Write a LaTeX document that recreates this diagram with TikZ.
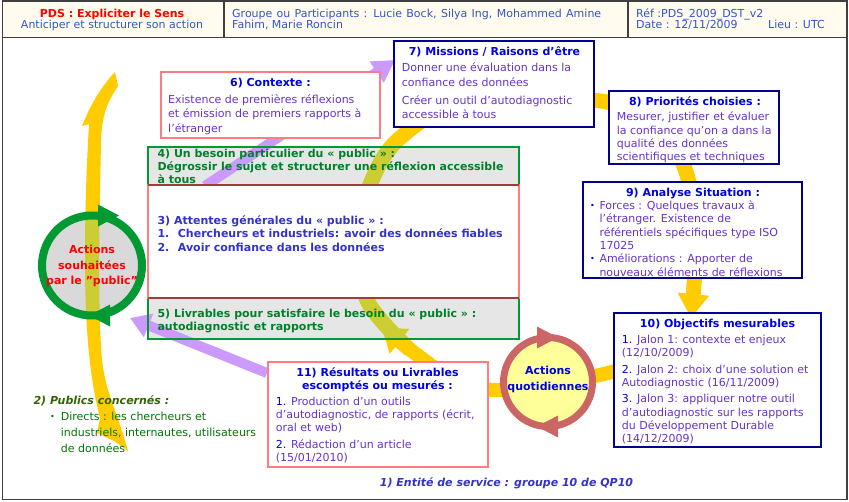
\documentclass[tikz,border=0pt]{standalone}
\usepackage{fontspec}
\setmainfont{DejaVu Sans}
\usetikzlibrary{arrows.meta}
\definecolor{yel}{RGB}{255,204,0}
\definecolor{oli}{RGB}{204,204,51}
\definecolor{pur}{RGB}{204,153,255}
\definecolor{grn}{RGB}{0,153,51}
\definecolor{gtx}{RGB}{0,128,40}
\definecolor{gtx2}{RGB}{0,120,0}
\definecolor{dgr}{RGB}{51,102,0}
\definecolor{nav}{RGB}{0,0,140}
\definecolor{pnk}{RGB}{255,124,128}
\definecolor{tb}{RGB}{0,0,230}
\definecolor{vio}{RGB}{102,51,204}
\definecolor{b3c}{RGB}{51,51,204}
\definecolor{hb}{RGB}{51,85,204}
\definecolor{cream}{RGB}{255,251,238}
\definecolor{gry}{RGB}{230,230,230}
\definecolor{cg}{RGB}{217,217,217}
\definecolor{rng}{RGB}{204,102,102}
\definecolor{lyel}{RGB}{255,255,153}
\definecolor{dk}{RGB}{64,64,64}
\definecolor{mar}{RGB}{160,60,60}
\newcommand\blk[7][]{\node[inner sep=0pt, anchor=north west, align=left, text=#6, font=\fontsize{11}{#5}\selectfont#1] (#2) at (#3,{#4-0.7*#5}) {\strut #7};}
\newcommand\ttl[4]{\node[inner sep=0pt, anchor=base, text=tb, font=\fontsize{11}{13}\selectfont\bfseries] (#1) at (#2,#3) {#4};}
\newcommand\uparc[2]{\draw[#1, line width=15pt, #2] plot[smooth, tension=0.55] coordinates {(410,350) (368,302) (356,240) (372,180) (400,138) (460,106) (601,101) (662,132) (687,175) (696,240) (691,318)};}
\newcommand\lowarc[2]{\draw[#1, line width=14pt, #2] plot[smooth, tension=0.55] coordinates {(650,360) (604,374) (548,384) (495,390) (455,381) (428,363) (382,328)};}
\tikzset{
  bxn/.style={draw=nav, line width=2.5pt, fill=white, inner sep=0pt, rectangle},
  bxp/.style={draw=pnk, line width=2pt, fill=white, inner sep=0pt, rectangle},
  hd/.style={inner sep=0pt, anchor=base west, text=hb, font=\fontsize{11}{13}\selectfont},
  band/.style={pur, line width=10pt},
}
\begin{document}
\begin{tikzpicture}[x=1pt,y=-1pt]
\useasboundingbox (0,0) rectangle (849,501);
\fill[white] (0,0) rectangle (849,501);
\fill[cream] (2,1) rectangle (847,37.5);
% grey boxes
\fill[gry] (148,147) rectangle (519,185);
\fill[gry] (148,298) rectangle (519,339);
% yellow arcs
\uparc{yel}{-{Triangle[length=24pt,width=30pt]}}
\lowarc{yel}{-{Triangle[length=22pt,width=30pt]}}
\begin{scope}
\clip (148,147) rectangle (519,185) (148,298) rectangle (519,339);
\uparc{oli}{-{Triangle[length=24pt,width=30pt]}}
\lowarc{oli}{-{Triangle[length=22pt,width=30pt]}}
\end{scope}
% left yellow arrow
\fill[yel] (115,72) -- (118,86) .. controls (109,100) and (102,112) .. (101,140) .. controls (100,200) and (97,300) .. (102,360) .. controls (106,395) and (117,410) .. (128,451) -- (114,441) -- (97,433) -- (100,418) .. controls (90,380) and (85,330) .. (85,260) .. controls (85,200) and (87,160) .. (89,124) -- (82,126) .. controls (90,106) and (100,88) .. (115,72) -- cycle;
% purple arrows
\coordinate (p1s) at (267,373);
\coordinate (p1e) at (130,318);
\coordinate (p2s) at (205,186);
\coordinate (p2e) at (395,60);
\draw[band, -{Triangle[length=20pt,width=24pt]}] (p1s) -- (p1e);
\draw[band, -{Triangle[length=22pt,width=24pt]}] (p2s) -- (p2e);
% boxes 4 and 5
\draw[grn, line width=2pt] (148,147) rectangle (519,185);
\draw[grn, line width=2pt] (148,298) rectangle (519,339);
\blk[\bfseries]{t4}{157.3}{157.3}{12.9}{gtx}{4) Un besoin particulier du « public » :\\Dégrossir le sujet et structurer une réflexion accessible\\à tous}
\blk[\bfseries]{t5}{157.3}{317.3}{12.6}{gtx}{5) Livrables pour satisfaire le besoin du « public » :\\autodiagnostic et rapports}
% box 3
\filldraw[fill=white, draw=pnk, line width=1.5pt] (148,185) rectangle (519,298);
\draw[mar, line width=1.5pt] (148,185) -- (519,185) (148,298) -- (519,298);
\blk[\bfseries]{t3}{157.3}{224}{13.5}{b3c}{3) Attentes générales du « public » :\\\makebox[20.4pt][l]{1.}Chercheurs et industriels: avoir des données fiables\\\makebox[20.4pt][l]{2.}Avoir confiance dans les données}
% box 6
\node[bxp, minimum width=219pt, minimum height=66pt] (b6) at (270.5,105) {};
\ttl{t6h}{270.5}{86}{6) Contexte :}
\blk{t6}{168}{103}{14.7}{vio}{Existence de premières réflexions\\et émission de premiers rapports à\\l’étranger}
% box 7
\node[bxn, minimum width=200pt, minimum height=86pt] (b7) at (494,84) {};
\ttl{t7h}{494.5}{55}{7) Missions / Raisons d'être}
\blk{t7}{401.7}{71.7}{14.7}{vio}{Donner une évaluation dans la\\confiance des données\\[2.8pt]Créer un outil d’autodiagnostic\\accessible à tous}
% box 8
\node[bxn, minimum width=170pt, minimum height=73pt] (b8) at (694,127.5) {};
\ttl{t8h}{695}{105}{8) Priorités choisies :}
\blk{t8}{616.7}{120.5}{13.3}{vio}{Mesurer, justifier et évaluer\\la confiance qu’on a dans la\\qualité des données\\scientifiques et techniques}
% box 9
\node[bxn, minimum width=219pt, minimum height=96pt] (b9) at (692.5,230) {};
\ttl{t9h}{693}{196}{9) Analyse Situation :}
\blk{t9}{599.3}{209}{13.4}{vio}{Forces : Quelques travaux à\\l’étranger. Existence de\\référentiels spécifiques type ISO\\17025\\Améliorations : Apporter de\\nouveaux éléments de réflexions}
\node[inner sep=0pt, anchor=base west, text=tb, font=\fontsize{8}{9}\selectfont] (u1) at (590,208) {•};
\node[inner sep=0pt, anchor=base west, text=tb, font=\fontsize{8}{9}\selectfont] (u2) at (590,261.7) {•};
% box 10
\node[bxn, minimum width=207pt, minimum height=134pt] (b10) at (717.5,380) {};
\ttl{t10h}{717.5}{327.3}{10) Objectifs mesurables}
\blk{t10}{621.7}{343.3}{13.1}{vio}{{\color{tb}1.} Jalon 1: contexte et enjeux\\(12/10/2009)\\[3.5pt]{\color{tb}2.} Jalon 2: choix d’une solution et\\Autodiagnostic (16/11/2009)\\[3.5pt]{\color{tb}3.} Jalon 3: appliquer notre outil\\d’autodiagnostic sur les rapports\\du Développement Durable\\(14/12/2009)}
% box 11
\node[bxp, minimum width=220pt, minimum height=105pt] (b11) at (378,414.5) {};
\ttl{t11h}{377.5}{376.7}{11) Résultats ou Livrables}
\ttl{t11i}{377.5}{389.3}{escomptés ou mesurés :}
\blk{t11}{275.7}{405}{13.3}{vio}{{\color{tb}1.} Production d’un outils\\d’autodiagnostic, de rapports (écrit,\\oral et web)\\[3.3pt]{\color{tb}2.} Rédaction d’un article\\(15/01/2010)}
% circle 1
\fill[cg] (92,265.5) circle (50pt);
\begin{scope}
\clip (92,265.5) circle (50pt);
\fill[oli] (115,72) -- (118,86) .. controls (109,100) and (102,112) .. (101,140) .. controls (100,200) and (97,300) .. (102,360) .. controls (106,395) and (117,410) .. (128,451) -- (114,441) -- (97,433) -- (100,418) .. controls (90,380) and (85,330) .. (85,260) .. controls (85,200) and (87,160) .. (89,124) -- (82,126) .. controls (90,106) and (100,88) .. (115,72) -- cycle;
\end{scope}
\draw[grn, line width=8pt] (92,265.5) circle (50pt);
\fill[grn] (98,204.5) -- (98,226.5) -- (119,215.5) -- cycle;
\fill[grn] (110,304.5) -- (110,326.5) -- (89,315.5) -- cycle;
\node[inner sep=0pt, anchor=north, align=center, text=red, font=\fontsize{11}{15.5}\selectfont\bfseries] (c1t) at (92,{253.3-0.7*15.5}) {\strut Actions\\souhaitées\\par le "public"};
% circle 2
\fill[lyel] (548,382) circle (44.5pt);
\draw[rng, line width=7pt] (548,382) circle (44.5pt);
\fill[rng] (537,326.5) -- (537,348.5) -- (558,337.5) -- cycle;
\fill[rng] (558,415.5) -- (558,437.5) -- (537,426.5) -- cycle;
\node[inner sep=0pt, anchor=north, align=center, text=tb, font=\fontsize{11}{16}\selectfont\bfseries] (c2t) at (548,{374-0.7*16}) {\strut Actions\\quotidiennes};
% publics
\node[inner sep=0pt, anchor=base west, text=dgr, font=\fontsize{11}{13}\selectfont\bfseries\itshape] (pub) at (33.3,404) {2) Publics concernés :};
\node[inner sep=0pt, anchor=base west, text=gtx2, font=\fontsize{8}{9}\selectfont] (u3) at (50,419.7) {•};
\blk{t2}{60.7}{420.7}{16}{gtx2}{Directs : les chercheurs et\\industriels, internautes, utilisateurs\\de données}
% entity
\node[inner sep=0pt, anchor=base, text=b3c, font=\fontsize{11}{13}\selectfont\bfseries\itshape] (ent) at (506.5,486) {1) Entité de service : groupe 10 de QP10};
% header
\node[inner sep=0pt, anchor=base, text=red, font=\fontsize{11}{13}\selectfont\bfseries] (h1) at (112,17.5) {PDS : Expliciter le Sens};
\node[inner sep=0pt, anchor=base, text=hb, font=\fontsize{11}{13}\selectfont] (h2) at (112,28.5) {Anticiper et structurer son action};
\node[hd] (h3) at (232,17) {\makebox[369pt][s]{Groupe ou Participants : Lucie Bock, Silya Ing, Mohammed Amine}};
\node[hd] (h4) at (232,28.5) {Fahim, Marie Roncin};
\node[hd] (h5) at (636,17) {Réf :PDS\_2009\_DST\_v2};
\node[hd] (h6) at (636,28.5) {Date : 12/11/2009};
\node[hd] (h7) at (768,28.5) {Lieu : UTC};
\draw[dk, line width=1.5pt] (224,1) -- (224,37.5) (628,1) -- (628,37.5) (2,37.5) -- (847,37.5);
\draw[dk, line width=1.5pt] (2.5,1) rectangle (847,499.5);
\end{tikzpicture}
\end{document}
